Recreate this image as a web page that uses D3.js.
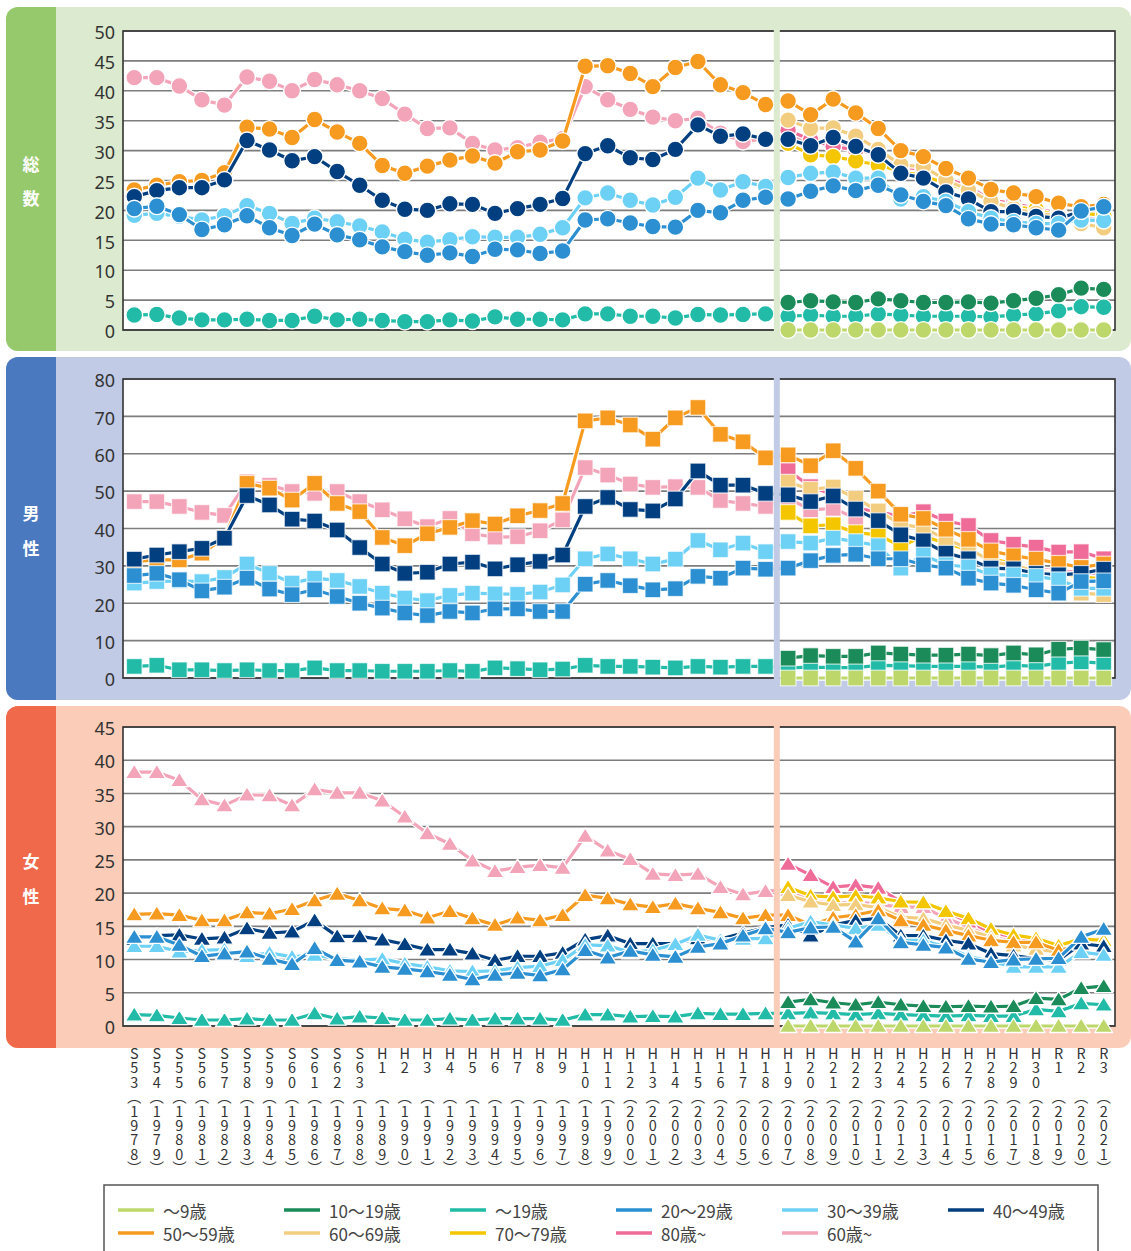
<!DOCTYPE html>
<html>
<head>
<meta charset="utf-8">
<script src="https://cdn.jsdelivr.net/npm/d3@7"></script>
<style>
  body { margin: 0; background: #fff; }
  svg { display: block; }
  .xlab { writing-mode: vertical-rl; text-orientation: upright; }
</style>
</head>
<body>
<svg id="chart" width="1131" height="1251"></svg>
<script>
// tick labels
var eraLabels = ['S53','S54','S55','S56','S57','S58','S59','S60','S61','S62','S63',
  'H1','H2','H3','H4','H5','H6','H7','H8','H9','H10','H11','H12','H13','H14','H15','H16','H17','H18',
  'H19','H20','H21','H22','H23','H24','H25','H26','H27','H28','H29','H30','R1','R2','R3'];
var westernYears = ['1978','1979','1980','1981','1982','1983','1984','1985','1986','1987','1988',
  '1989','1990','1991','1992','1993','1994','1995','1996','1997','1998','1999','2000','2001','2002',
  '2003','2004','2005','2006','2007','2008','2009','2010','2011','2012','2013','2014','2015','2016',
  '2017','2018','2019','2020','2021'];

var seriesNames = ['～9歳','10～19歳','～19歳','20～29歳','30～39歳','40～49歳','50～59歳','60～69歳','70～79歳','80歳~','60歳~'];
var seriesColors = ['#bdd76b','#1a8b59','#21bba7','#2b8fd2','#6dd0f5','#023f80','#f79b20','#f3cd7f','#f3c600','#ef6b98','#f3a4b8'];

// 総数 (series from H19 only have 15 values)
var total_0_9   = [0,0,0,0,0,0,0,0,0,0,0,0,0,0,0];
var total_10_19 = [4.6,4.9,4.7,4.6,5.2,4.9,4.6,4.6,4.7,4.5,4.9,5.3,5.9,7.0,6.8];
var total_0_19  = [2.5,2.6,2.0,1.7,1.7,1.8,1.6,1.6,2.3,1.7,1.8,1.6,1.4,1.4,1.7,1.5,2.2,1.8,1.8,1.7,2.7,2.7,2.3,2.3,2.0,2.6,2.5,2.6,2.7,
                   2.3,2.5,2.3,2.3,2.7,2.5,2.3,2.3,2.3,2.2,2.5,2.7,3.2,3.9,3.8];
var total_20_29 = [20.3,20.7,19.3,16.8,17.6,19.1,17.1,15.8,17.7,15.9,15.1,13.9,13.1,12.5,12.9,12.3,13.5,13.4,12.8,13.2,18.4,18.6,17.9,17.3,17.2,20.0,19.6,21.7,22.2,
                   21.9,23.2,24.1,23.3,24.2,22.6,21.5,20.8,18.6,17.7,17.6,17.1,16.7,19.9,20.6];
var total_30_39 = [19.2,19.5,19.0,18.4,19.1,20.8,19.5,17.8,18.7,18.1,17.4,16.4,15.2,14.7,15.1,15.6,15.5,15.5,16.0,17.1,22.1,22.9,21.7,20.9,22.2,25.4,23.4,24.8,24.0,
                   25.5,26.2,26.4,25.4,25.4,21.9,22.3,21.5,19.8,18.7,18.1,17.8,17.8,18.4,18.3];
var total_40_49 = [22.3,23.3,23.8,23.8,25.1,31.7,30.1,28.3,29.0,26.5,24.2,21.7,20.2,20.0,21.1,21.0,19.5,20.3,21.0,22.0,29.5,30.8,28.8,28.5,30.2,34.3,32.4,32.8,31.9,
                   31.9,30.8,32.2,30.7,29.3,26.2,25.4,23.1,21.9,19.8,19.8,19.0,18.7,19.8,20.6];
var total_50_59 = [23.4,24.2,24.8,25.0,26.3,33.9,33.6,32.2,35.2,33.1,31.2,27.5,26.2,27.4,28.4,29.1,27.9,29.8,30.1,31.6,44.1,44.2,42.9,40.7,43.9,44.9,41.0,39.7,37.7,
                   38.3,36.0,38.6,36.3,33.7,30.0,29.0,27.0,25.4,23.5,22.9,22.3,21.2,20.6,21.0];
var total_60_69 = [35.1,33.7,33.8,32.4,30.2,27.6,27.3,25.1,23.4,21.5,20.3,19.5,19.1,17.8,17.1];
var total_70_79 = [31.2,29.3,29.0,28.3,27.6,26.5,25.8,24.5,23.5,21.5,20.6,20.2,19.0,19.5,19.2];
var total_80up  = [33.4,31.8,30.7,30.1,29.5,27.3,26.8,25.4,24.0,21.7,21.2,20.3,19.5,19.0,20.1];
var total_60up  = [42.2,42.2,40.8,38.5,37.6,42.3,41.6,40.0,41.9,41.0,40.0,38.7,36.1,33.7,33.8,31.2,30.1,30.5,31.4,32.0,40.7,38.5,36.9,35.6,35.0,35.4,32.9,31.5,32.0,
                   32.9,31.2,31.2,30.4,29.3,27.3,26.8,25.1,24.0,21.7,20.9,20.1,19.2,18.7,19.0];

// 男性
var male_0_9   = [0,0,0,0,0,0,0,0,0,0,0,0,0,0,0];
var male_10_19 = [5.3,6.0,5.8,5.8,6.7,6.4,6.1,6.1,6.4,6.0,6.7,6.2,7.7,8.0,7.6];
var male_0_19  = [3.1,3.4,2.2,2.2,2.0,2.2,2.0,2.0,2.7,2.0,2.0,1.8,1.8,1.8,2.0,1.8,2.7,2.5,2.2,2.4,3.4,3.1,3.1,2.9,2.7,3.1,2.9,3.1,3.1,
                  2.7,2.9,2.8,2.8,3.4,3.3,3.1,3.1,3.1,2.9,3.4,3.1,4.0,4.3,4.0];
var male_20_29 = [27.4,28.0,26.3,23.3,24.3,26.7,23.8,22.3,23.6,21.8,20.0,18.7,17.4,16.7,17.8,17.4,18.5,18.5,17.8,17.8,25.1,26.1,24.7,23.6,23.9,27.2,26.7,29.4,29.1,
                  29.4,31.4,32.8,33.1,31.9,31.9,30.3,29.4,26.7,25.4,24.8,23.6,22.7,25.8,26.0];
var male_30_39 = [25.4,25.8,26.0,25.8,26.9,30.5,28.0,25.4,26.7,26.1,24.5,22.7,21.4,20.7,22.1,22.7,22.5,22.4,23.0,24.9,31.9,33.2,31.9,30.5,31.8,36.8,34.3,36.1,33.8,
                  36.5,36.1,37.4,36.5,35.4,29.4,32.9,30.3,29.7,27.6,27.6,27.2,26.3,24.0,24.0];
var male_40_49 = [31.8,32.9,33.8,34.7,37.4,48.8,46.3,42.5,42.0,39.6,34.9,30.5,28.0,28.3,30.5,31.0,29.2,30.3,31.2,32.9,45.9,48.3,45.1,44.7,47.9,55.4,51.6,51.6,49.4,
                  49.0,47.2,48.7,45.2,42.1,38.3,36.7,33.4,31.9,29.4,29.2,28.0,27.6,28.0,29.1];
var male_50_59 = [31.2,31.6,31.6,33.4,37.5,52.1,50.8,47.6,52.1,46.7,44.5,37.6,35.4,38.6,40.3,42.1,41.2,43.4,44.8,46.7,68.8,69.6,67.7,63.9,69.6,72.4,65.2,63.2,58.9,
                  59.7,56.8,60.8,56.1,50.0,43.8,42.7,39.8,37.1,34.0,32.7,31.8,30.7,29.6,30.5];
var male_60_69 = [52.4,50.5,51.1,48.1,44.7,41.1,40.2,37.1,34.7,31.2,30.1,28.7,27.8,22.7,22.3];
var male_70_79 = [44.3,40.7,41.0,38.9,38.3,35.2,38.0,36.0,34.3,32.0,30.5,28.9,28.0,27.0,26.5];
var male_80up  = [55.5,51.2,49.0,45.4,44.5,43.2,44.5,42.0,40.8,36.8,35.8,35.0,33.7,33.8,31.9];
var male_60up  = [47.2,47.2,45.9,44.3,43.5,52.5,51.6,49.9,49.4,49.9,47.2,45.0,42.6,40.5,42.7,38.6,37.7,37.8,39.4,42.3,56.3,54.3,51.9,51.0,51.2,51.0,47.5,46.7,45.9,
                  48.1,45.0,45.4,42.7,44.7,41.0,40.1,36.2,34.7,31.6,30.5,29.4,28.5,28.5,27.6];

// 女性
var female_0_9   = [0,0,0,0,0,0,0,0,0,0,0,0,0,0,0];
var female_10_19 = [3.6,4.0,3.5,3.2,3.6,3.2,3.0,2.9,3.0,2.9,3.0,4.2,4.0,5.7,6.0];
var female_0_19  = [1.7,1.6,1.2,0.9,0.9,1.1,0.9,0.9,1.9,1.1,1.4,1.2,0.9,0.9,1.1,0.9,1.1,1.1,1.1,0.9,1.7,1.7,1.4,1.5,1.4,1.9,1.8,1.8,1.9,
                    1.9,2.0,1.9,1.7,1.9,1.7,1.6,1.5,1.6,1.5,1.5,2.5,2.2,3.4,3.2];
var female_20_29 = [13.4,13.4,12.2,10.5,10.9,11.2,10.1,9.3,11.7,9.9,9.7,8.9,8.6,8.2,7.7,7.0,7.7,8.0,7.6,8.5,11.4,10.3,11.3,10.7,10.4,11.9,12.4,13.6,14.7,
                    14.1,14.8,14.9,12.7,16.2,12.6,12.2,11.8,10.1,9.6,10.0,10.1,10.2,13.4,14.6];
var female_30_39 = [12.0,12.0,11.2,11.4,11.5,10.5,11.0,10.4,10.7,10.1,9.9,10.1,9.4,8.9,8.3,8.2,8.3,8.8,9.0,9.9,12.2,12.1,11.1,11.4,12.3,13.7,12.9,13.1,13.2,
                    14.7,15.7,15.2,14.7,15.2,12.9,12.9,11.9,10.5,9.7,8.9,8.9,8.9,11.1,10.7];
var female_40_49 = [13.1,13.6,13.7,13.1,13.3,14.7,14.0,14.2,15.9,13.5,13.5,13.0,12.3,11.5,11.5,10.9,9.9,10.5,10.5,11.0,13.0,13.6,12.4,12.4,12.4,13.2,13.1,14.0,14.8,
                    15.2,13.6,15.2,15.9,16.2,13.6,13.6,12.9,12.4,10.9,10.6,10.1,9.9,12.4,12.0];
var female_50_59 = [16.8,16.9,16.7,15.9,15.9,17.1,16.9,17.6,18.9,19.9,18.9,17.7,17.4,16.3,17.3,16.2,15.2,16.3,15.9,16.7,19.7,19.2,18.3,17.9,18.4,17.7,17.1,16.2,16.7,
                    16.7,15.2,16.3,16.7,17.4,15.9,15.2,14.4,13.6,12.9,12.6,12.6,11.4,12.1,12.2];
var female_60_69 = [19.7,18.7,18.2,18.3,17.8,16.4,16.2,15.2,14.4,13.4,12.1,11.6,11.1,12.1,12.1];
var female_70_79 = [20.9,19.6,19.4,19.6,19.3,18.7,18.6,17.3,16.2,14.6,13.7,13.2,12.1,13.1,12.9];
var female_80up  = [24.4,22.7,20.9,21.2,20.8,18.7,18.6,17.2,15.7,14.1,13.4,12.9,11.9,13.1,13.1];
var female_60up  = [38.2,38.2,37.0,34.1,33.2,34.8,34.7,33.2,35.6,35.1,35.1,33.9,31.5,29.0,27.4,24.9,23.3,23.9,24.2,23.8,28.6,26.4,25.1,22.9,22.7,22.9,20.9,19.8,20.3,
                    20.5,18.9,18.4,18.7,18.3,17.9,17.9,16.2,14.9,13.6,12.9,12.4,11.6,12.6,12.5];

var svg = d3.select('#chart');
var nYears = eraLabels.length,
  newFrom = 29; // H19

// pads the H19- series so every array lines up with the year axis
function fit(arr) {
  if (arr.length === nYears) { return arr; }
  return d3.range(nYears - arr.length).map(function () { return null; }).concat(arr);
}

var x = d3.scalePoint()
  .domain(d3.range(nYears))
  .range([123, 1115])
  .padding(0.5);

var panels = [
  { label: ['総', '数'], top: 7, bottom: 351, plotTop: 31, plotBottom: 330, max: 50, step: 5,
    tab: '#96c96b', bg: '#dcebcf', shape: 'circle', labelY: [163, 197],
    data: [total_0_9, total_10_19, total_0_19, total_20_29, total_30_39, total_40_49, total_50_59, total_60_69, total_70_79, total_80up, total_60up] },
  { label: ['男', '性'], top: 357, bottom: 700, plotTop: 379, plotBottom: 678, max: 80, step: 10,
    tab: '#4b79bf', bg: '#c1cbe6', shape: 'square', labelY: [512, 547],
    data: [male_0_9, male_10_19, male_0_19, male_20_29, male_30_39, male_40_49, male_50_59, male_60_69, male_70_79, male_80up, male_60up] },
  { label: ['女', '性'], top: 706, bottom: 1048, plotTop: 727, plotBottom: 1026, max: 45, step: 5,
    tab: '#f0694a', bg: '#fbcdb8', shape: 'triangle', labelY: [860, 895],
    data: [female_0_9, female_10_19, female_0_19, female_20_29, female_30_39, female_40_49, female_50_59, female_60_69, female_70_79, female_80up, female_60up] }
];

panels.forEach(function (p) {
  var g = svg.append('g');
  var r = 12, x0 = 6, x1 = 56;

  // panel background + coloured tab
  g.append('rect')
    .attr('x', x0).attr('y', p.top)
    .attr('width', 1131 - x0).attr('height', p.bottom - p.top)
    .attr('rx', r)
    .attr('fill', p.bg);
  g.append('path')
    .attr('d', 'M' + (x0 + r) + ',' + p.top + 'H' + x1 + 'V' + p.bottom + 'H' + (x0 + r) +
      'A' + r + ',' + r + ' 0 0 1 ' + x0 + ',' + (p.bottom - r) + 'V' + (p.top + r) +
      'A' + r + ',' + r + ' 0 0 1 ' + (x0 + r) + ',' + p.top + 'Z')
    .attr('fill', p.tab);
  p.label.forEach(function (ch, i) {
    g.append('text')
      .attr('x', 31).attr('y', p.labelY[i])
      .attr('text-anchor', 'middle')
      .attr('dominant-baseline', 'central')
      .attr('font-family', '"Noto Sans CJK JP", sans-serif')
      .attr('font-size', '17px')
      .attr('font-weight', 'bold')
      .attr('fill', '#fff')
      .text(ch);
  });

  var y = d3.scaleLinear().domain([0, p.max]).range([p.plotBottom, p.plotTop]);
  var ticks = d3.range(0, p.max + p.step / 2, p.step);

  g.append('rect')
    .attr('x', 123).attr('y', p.plotTop)
    .attr('width', 1115 - 123).attr('height', p.plotBottom - p.plotTop)
    .attr('fill', '#fff');

  // gridlines
  g.append('g')
    .selectAll('line')
    .data(ticks)
    .enter()
    .append('line')
    .attr('x1', 123).attr('x2', 1115)
    .attr('y1', function (d) { return y(d); })
    .attr('y2', function (d) { return y(d); })
    .attr('stroke', '#7d7d7d')
    .attr('stroke-width', 1.6);

  g.append('rect')
    .attr('x', 123).attr('y', p.plotTop)
    .attr('width', 1115 - 123).attr('height', p.plotBottom - p.plotTop)
    .attr('fill', 'none')
    .attr('stroke', '#333')
    .attr('stroke-width', 1.6);

  // tick labels sit a touch below their gridline in the original
  var axis = g.append('g')
    .attr('transform', 'translate(123,2)')
    .call(d3.axisLeft(y).tickValues(ticks).tickSize(0).tickPadding(8));
  axis.select('.domain').remove();
  axis.selectAll('text')
    .attr('font-family', '"Noto Sans", sans-serif')
    .attr('font-size', '18px')
    .attr('fill', '#333');

  var line = d3.line()
    .defined(function (d) { return d !== null; })
    .x(function (d, i) { return x(i); })
    .y(function (d) { return y(d); });

  // later legend entries sit underneath, so draw in reverse
  d3.range(p.data.length - 1, -1, -1).forEach(function (k) {
    var vals = fit(p.data[k]),
      col = seriesColors[k];
    var sg = g.append('g');

    sg.append('path')
      .datum(vals)
      .attr('d', line)
      .attr('fill', 'none')
      .attr('stroke', '#fff')
      .attr('stroke-width', 5.5);
    sg.append('path')
      .datum(vals)
      .attr('d', line)
      .attr('fill', 'none')
      .attr('stroke', col)
      .attr('stroke-width', 3.2);

    var pts = vals.map(function (v, i) { return { i: i, v: v }; })
      .filter(function (d) { return d.v !== null; });

    var mk = sg.selectAll('.mk')
      .data(pts)
      .enter();

    if (p.shape === 'circle') {
      mk.append('circle')
        .attr('cx', function (d) { return x(d.i); })
        .attr('cy', function (d) { return y(d.v); })
        .attr('r', 8.4)
        .attr('fill', col)
        .attr('stroke', '#fff')
        .attr('stroke-width', 1.4);
    } else if (p.shape === 'square') {
      mk.append('rect')
        .attr('x', function (d) { return x(d.i) - 7.8; })
        .attr('y', function (d) { return y(d.v) - 7.8; })
        .attr('width', 15.6)
        .attr('height', 15.6)
        .attr('fill', col)
        .attr('stroke', '#fff')
        .attr('stroke-opacity', 0.7)
        .attr('stroke-width', 1.2);
    } else {
      mk.append('path')
        .attr('d', function (d) {
          var cx = x(d.i), cy = y(d.v);
          return 'M' + cx + ',' + (cy - 8) + 'L' + (cx + 9) + ',' + (cy + 6.5) + 'L' + (cx - 9) + ',' + (cy + 6.5) + 'Z';
        })
        .attr('fill', col)
        .attr('stroke', '#fff')
        .attr('stroke-width', 1.3)
        .attr('stroke-linejoin', 'round');
    }
  });

  // band separating the old and new age groups
  var sep = (x(newFrom - 1) + x(newFrom)) / 2;
  g.append('rect')
    .attr('x', sep - 3).attr('y', p.plotTop - 1)
    .attr('width', 6).attr('height', p.plotBottom - p.plotTop + 8)
    .attr('fill', p.bg);
});

// x labels: one vertical text per column, e.g. "S53︵1978︶"
var xl = svg.append('g')
  .attr('font-family', '"Noto Sans CJK JP", sans-serif')
  .attr('font-size', '14.45px')
  .attr('fill', '#333');

eraLabels.forEach(function (lab, i) {
  var era = lab.length < 3 ? lab + '\u3000' : lab;
  xl.append('text')
    .attr('class', 'xlab')
    .attr('x', x(i))
    .attr('y', 1046)
    .text(era + '︵' + westernYears[i] + '︶');
});

// legend
var lg = svg.append('g');
lg.append('rect')
  .attr('x', 104).attr('y', 1185)
  .attr('width', 994).attr('height', 80)
  .attr('fill', '#fff')
  .attr('stroke', '#555')
  .attr('stroke-width', 1.5);

seriesNames.forEach(function (name, k) {
  var col = k % 6, row = Math.floor(k / 6);
  var lx = 118 + col * 166, ly = 1210 + row * 23;
  lg.append('line')
    .attr('x1', lx).attr('x2', lx + 36)
    .attr('y1', ly).attr('y2', ly)
    .attr('stroke', seriesColors[k])
    .attr('stroke-width', 3.5);
  lg.append('text')
    .attr('x', lx + 45).attr('y', ly)
    .attr('dominant-baseline', 'central')
    .attr('font-family', '"Noto Sans CJK JP", sans-serif')
    .attr('font-size', '17px')
    .attr('fill', '#444')
    .text(name);
});
</script>
</body>
</html>
